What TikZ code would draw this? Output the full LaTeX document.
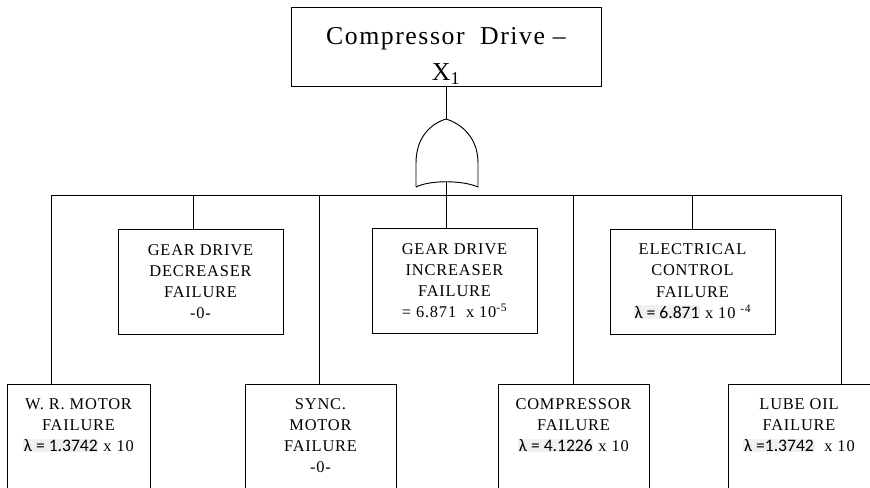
\documentclass[tikz,border=0pt]{standalone}
\usepackage{fontspec}
\setmainfont{Liberation Serif}
\newfontfamily\boxfont{Liberation Serif}[LetterSpace=5]
\newfontfamily\titlefont{Liberation Serif}[LetterSpace=6]
\newfontfamily\calfont{Carlito}
\usetikzlibrary{positioning}
\newcommand{\lamval}[1]{{\setlength{\fboxsep}{0.6pt}\colorbox{black!6}{\calfont\fontsize{15}{18}\selectfont #1}}}
\tikzset{
  topbox/.style={draw,line width=0.8pt,minimum width=9.3cm,minimum height=2.37cm,inner sep=0pt,align=center,font=\titlefont\fontsize{22}{31}\selectfont},
  midbox/.style={draw,line width=0.8pt,minimum width=4.95cm,minimum height=3.15cm,inner sep=0pt,align=center,font=\boxfont\fontsize{14}{18}\selectfont},
  lowbox/.style={draw,line width=0.8pt,minimum height=3.6cm,inner sep=0pt,anchor=north},
  lowtext/.style={inner sep=0pt,align=center,font=\boxfont\fontsize{14}{18}\selectfont},
  wire/.style={line width=0.8pt}
}

\begin{document}
\begin{tikzpicture}[x=0.03cm,y=-0.03cm]
  \useasboundingbox (0,0) rectangle (870,488);
  \clip (0,0) rectangle (870,488);

  % top event
  \node[topbox] (top) at (446,46.5) {\rule{0pt}{30pt}Compressor\hspace{0.6em}Drive –\\X\textsubscript{1}};

  % OR gate
  \coordinate (gtop) at (446,119);
  \coordinate (gbot) at (446,182);
  \draw[wire] (416,187) -- (416,163) .. controls (416,138) and (430,124) .. (gtop)
    .. controls (462,124) and (478,138) .. (478,163) -- (478,187)
    .. controls (462,180) and (430,180) .. (416,187);
  \draw[wire] (top.south) -- (gtop);

  % middle row
  \node[midbox] (gdd) at (200.5,281.5) {GEAR DRIVE\\DECREASER\\FAILURE\\-0-};
  \node[midbox] (gdi) at (454.5,280.5) {GEAR DRIVE\\INCREASER\\FAILURE\\= 6.871\ \ x 10\textsuperscript{-5}};
  \node[midbox] (elc) at (692.5,281.5) {ELECTRICAL\\CONTROL\\FAILURE\\\lamval{λ = 6.871} x 10 \textsuperscript{-4}};

  % bottom row
  \node[lowbox,minimum width=4.29cm] (wrm) at (78.5,384) {};
  \node[lowbox,minimum width=4.53cm] (syn) at (320.5,384) {};
  \node[lowbox,minimum width=4.53cm] (cmp) at (573.5,384) {};
  \node[lowbox,minimum width=4.26cm] (lub) at (799,384) {};
  \node[lowtext,below=0.42cm of wrm.north] (wrm-t) {W. R. MOTOR\\FAILURE\\\lamval{λ = 1.3742} x 10};
  \node[lowtext,below=0.42cm of syn.north] (syn-t) {SYNC.\\MOTOR\\FAILURE\\-0-};
  \node[lowtext,below=0.42cm of cmp.north] (cmp-t) {COMPRESSOR\\FAILURE\\\lamval{λ = 4.1226} x 10};
  \node[lowtext,below=0.42cm of lub.north] (lub-t) {LUBE OIL\\FAILURE\\\lamval{λ =1.3742}\ \ x 10};

  % bus and drops
  \coordinate (d1) at (51,195);
  \coordinate (d2) at (193,195);
  \coordinate (d3) at (319,195);
  \coordinate (d4) at (446,195);
  \coordinate (d5) at (573,195);
  \coordinate (d6) at (692,195);
  \coordinate (d7) at (841,195);
  \draw[wire] (d1) -- (d7);
  \draw[wire] (gbot) -- (d4);
  \foreach \d/\b in {d1/wrm,d2/gdd,d3/syn,d4/gdi,d5/cmp,d6/elc,d7/lub}
    \draw[wire] (\d) -- (\d |- \b.north);
\end{tikzpicture}
\end{document}
